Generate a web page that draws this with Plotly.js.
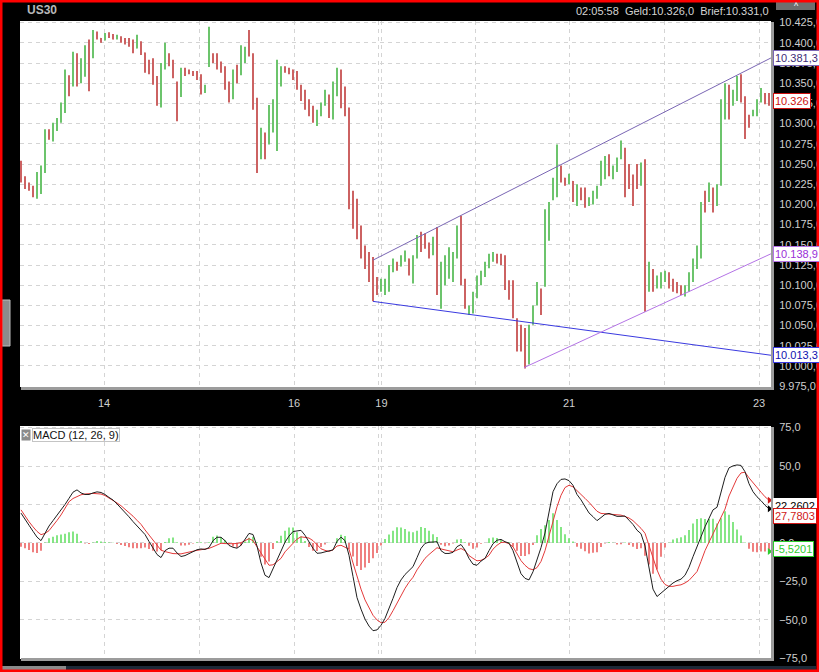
<!DOCTYPE html>
<html><head><meta charset="utf-8">
<script src="https://cdn.plot.ly/plotly-3.0.1.min.js"></script>
<style>html,body{margin:0;padding:0;background:#000;}#chart{width:819px;height:672px;}</style>
</head><body><div id="chart"></div>
<script>
// ---- price bars (US30, intraday) ----
const open = [
10250,10232,10224,10220,10212,10225,10242,10290,10282,10294,
10303,10316,10356,10350,10382,10355,10372,10398,10390,10410,
10405,10404,10411,10409,10406,10407,10403,10403,10400,10394,
10400,10387,10376,10374,10356,10325,10370,10385,10376,10350,
10335,10366,10364,10363,10362,10357,10340,10372,10386,10382,
10374,10368,10345,10335,10368,10362,10378,10395,10385,10330,
10258,10285,10278,10295,10305,10350,10369,10368,10366,10362,
10346,10338,10328,10318,10300,10312,10324,10333,10308,10345,
10364,10340,10318,10212,10195,10170,10146,10136,10128,10100,
10095,10098,10095,10118,10127,10124,10131,10132,10112,10135,
10160,10160,10150,10140,10168,10080,10105,10125,10110,10137,
10180,10105,10068,10070,10088,10102,10112,10125,10132,10137,
10134,10134,10100,10100,10055,10045,10035,10005,10055,10078,
10090,10100,10165,10207,10212,10245,10232,10226,10228,10203,
10219,10210,10200,10202,10210,10224,10235,10258,10236,10242,
10258,10268,10240,10232,10245,10228,10250,10095,10115,10100,
10100,10106,10114,10104,10100,10098,10089,10094,10108,10124,
10136,10210,10205,10215,10200,10225,10315,10345,10324,10332,
10356,10330,10308,10311,10312,10330,10336,10332];
const high = [
10254,10235,10227,10223,10240,10248,10293,10293,10301,10307,
10326,10367,10360,10389,10387,10381,10397,10404,10416,10414,
10406,10412,10413,10411,10410,10408,10406,10406,10404,10410,
10402,10388,10379,10381,10359,10375,10400,10387,10379,10352,
10369,10369,10367,10365,10365,10361,10348,10420,10387,10387,
10377,10371,10352,10367,10373,10397,10395,10416,10387,10332,
10295,10289,10323,10330,10379,10371,10371,10369,10367,10365,
10348,10342,10330,10322,10317,10326,10342,10336,10352,10369,
10367,10346,10320,10217,10207,10174,10149,10141,10135,10110,
10108,10108,10125,10133,10129,10137,10143,10133,10137,10162,
10166,10164,10153,10160,10172,10129,10137,10147,10141,10174,
10186,10108,10075,10092,10112,10118,10129,10139,10141,10139,
10139,10137,10106,10106,10059,10051,10047,10051,10075,10104,
10096,10194,10203,10233,10274,10248,10233,10238,10229,10225,
10221,10221,10209,10217,10223,10254,10260,10262,10248,10258,
10279,10270,10250,10237,10250,10252,10256,10129,10120,10112,
10116,10118,10116,10108,10104,10100,10100,10116,10133,10149,
10203,10217,10227,10221,10225,10330,10350,10348,10342,10359,
10361,10334,10311,10317,10330,10344,10338,10338];
const low = [
10227,10219,10217,10209,10207,10213,10239,10280,10278,10291,
10301,10313,10334,10346,10346,10350,10358,10340,10381,10404,
10400,10403,10406,10404,10404,10400,10398,10395,10387,10393,
10385,10363,10361,10348,10322,10320,10367,10371,10356,10303,
10333,10359,10361,10359,10354,10336,10338,10370,10375,10367,
10363,10342,10326,10330,10350,10360,10375,10383,10317,10239,
10256,10256,10274,10289,10266,10346,10363,10361,10354,10342,
10328,10317,10309,10301,10297,10309,10322,10307,10305,10334,
10319,10309,10194,10170,10157,10133,10120,10104,10080,10088,
10092,10088,10092,10116,10118,10123,10129,10112,10102,10133,
10141,10145,10133,10137,10088,10071,10100,10108,10104,10133,
10100,10071,10063,10065,10084,10100,10110,10121,10129,10127,
10125,10094,10082,10059,10018,10018,9997,10002,10051,10075,
10063,10098,10155,10205,10209,10227,10223,10225,10203,10198,
10205,10196,10198,10200,10207,10223,10231,10235,10231,10240,
10256,10209,10219,10198,10219,10223,10067,10092,10092,10096,
10096,10104,10096,10092,10090,10088,10086,10092,10104,10120,
10133,10190,10203,10190,10198,10223,10305,10305,10322,10328,
10326,10281,10295,10309,10309,10326,10324,10322];
const close = [
10232,10222,10219,10212,10236,10245,10290,10283,10298,10305,
10322,10360,10340,10383,10352,10375,10392,10390,10412,10408,
10401,10410,10408,10405,10407,10402,10400,10398,10389,10407,
10388,10366,10366,10352,10332,10370,10395,10375,10360,10315,
10365,10361,10363,10361,10356,10340,10346,10395,10378,10370,
10366,10345,10335,10362,10355,10392,10388,10386,10322,10255,
10290,10265,10318,10315,10375,10368,10368,10363,10357,10345,
10331,10320,10312,10304,10313,10320,10340,10312,10348,10362,
10325,10312,10200,10180,10162,10138,10125,10108,10105,10092,
10100,10104,10120,10130,10121,10135,10140,10116,10128,10158,
10150,10150,10136,10155,10095,10120,10133,10140,10136,10168,
10105,10075,10070,10088,10108,10115,10126,10133,10138,10130,
10128,10098,10090,10062,10025,10030,10010,10045,10068,10095,
10070,10185,10195,10228,10240,10230,10225,10235,10208,10220,
10208,10200,10205,10214,10219,10245,10255,10240,10244,10255,
10272,10215,10225,10215,10225,10245,10090,10120,10100,10108,
10112,10115,10100,10095,10094,10090,10098,10112,10128,10140,
10195,10200,10215,10195,10218,10320,10340,10312,10338,10355,
10335,10295,10300,10314,10326,10336,10328,10326];

// ---- MACD (12, 26, 9) ----
const macd = [
19.4,15,11.5,7.6,3.8,1.5,6.5,11,14.5,18,
21,25,29,33,34.5,32.5,31.5,31.5,32.5,33.2,
32.8,31.5,29.6,27.9,25.4,22.8,20,17,13.9,11.3,
8.7,5.5,1,-3.5,-7.5,-9.5,-5,-3.4,-3.4,-6.5,
-8.8,-8.2,-7,-5.6,-4.4,-3.9,-4.2,-3,1.5,3.7,
3.7,1.5,-1.6,-2.8,-3.4,-1.5,2.5,6.2,5.5,-2,
-13,-21,-22.5,-16.4,-11,-5.3,0.5,4.5,7.4,8,
8.2,5,0.5,-3.5,-6.7,-6.5,-5.8,-5.3,-4.5,1,
3.8,1.5,-8,-21.8,-35.5,-43,-49.5,-54,-57,-56.5,
-53.5,-49,-43,-36,-29,-24,-20.5,-18,-15.4,-9.5,
-3.5,-0.3,0.5,0.6,0.8,-5,-6.8,-6.8,-6.1,-2.4,
-1,-4.6,-10,-13.8,-14.5,-11.8,-10,-5,-0.5,1.8,
2.3,0.8,-0.1,-5,-12,-20,-23,-24,-18.7,-11,
-3,6.5,19.5,33.3,38.5,41.3,41.6,40.5,37.5,31.5,
28,23.6,19.5,17.1,14.5,16.5,18.6,19.2,18.5,17.3,
17.3,17.5,14.8,12,8.3,6,-2,-16,-30,-34.8,
-32.5,-30,-28,-26,-24.5,-23.5,-21,-15.8,-8.9,-3,
4,10.5,16,21.5,23.2,32.5,42.6,48.8,50.1,50.7,
50.4,46.3,38.5,33.3,30,27.5,24.5,22.2602];
const signal = [
21.5,17.5,13.8,10.5,7.5,5.4,6.2,8,11,14.6,
18.2,22.5,26.8,28.9,30.2,31.3,31.8,32.2,32.2,32,
31.8,30.8,29.3,27.7,26,24.2,22,19.8,17.4,14.7,
12.1,8.5,5,1.5,-2,-4.7,-5.6,-6.5,-6.9,-7,
-7.1,-6.5,-5.8,-5.2,-4.8,-4.4,-4,-3.5,-2.5,-1.2,
-0.2,-0.4,-0.6,-0.5,-0.3,0.2,1.5,2.8,1.5,-2.5,
-5.8,-10,-14.5,-14.2,-12.3,-10,-5.8,-3,-0.5,2.5,
4,3.8,3.2,1.5,-1.5,-3.8,-4.8,-5.5,-4.5,-2,
-1.5,-3,-4,-13,-22,-30,-37,-42.5,-47,-50,
-51.8,-51.5,-48.5,-44,-39.2,-34,-29.5,-25.5,-22.3,-17.5,
-13.8,-10,-7.5,-5,-3.1,-3.9,-4.6,-5.2,-5.7,-4.6,
-3.6,-5,-8.2,-10,-11.6,-11.3,-10,-8,-4,-1.5,
0.3,0.5,-0.5,-2.5,-7,-11.5,-14.5,-16.7,-17.4,-16,
-12,-5,4.5,14,23.5,31,36,37.5,36.5,34,
31.8,29,26.4,23.5,20.6,19.2,18.9,18.6,18.4,18.3,
18.1,17.2,16.2,14.5,12.2,9.5,6.3,-2,-10,-17.5,
-23.5,-27,-28.2,-28.2,-27.6,-27.2,-26,-24.3,-21.5,-18.6,
-12,-5,0.5,5.8,10.6,16.5,22,30.5,36.5,42,
45.5,46,42.3,39,36,33,30,27.7803];
const hist = [
-2.5,-3.5,-4.5,-6,-6.5,-5,0.3,3,4,5,
5.5,6,7,7.4,6,1.2,-0.3,-0.7,0.3,1.2,
1,0.7,0.3,0.2,-0.6,-1.4,-2,-2.8,-3.5,-3.4,
-3.4,-3,-4,-5,-5.5,-4.8,0.6,3.1,3.5,0.5,
-1.7,-1.7,-1.2,-0.4,0.4,0.5,-0.2,0.5,4,4.9,
3.9,1.9,-1,-2.3,-3.1,-1.7,1,3.4,4,0.5,
-9,-14,-12,-4,1.3,4.7,8,10,10,7,
4.2,1.2,-2.7,-5,-5.2,-2.7,-1,0.2,0,3,
5.3,4.5,-4,-8.8,-15,-17.5,-16,-13,-10,-6.5,
-1.7,2.5,5.5,8,10.2,10,9,7.5,6.9,8,
10.3,9.7,8,5.6,3.9,-1.1,-2.2,-1.6,-0.4,2.2,
2.6,0.4,-1.8,-3.8,-2.9,-0.5,0,3,3.5,3.3,
2,0.3,0.4,-2.5,-5,-8.5,-8.5,-7.3,-1.3,5,
9,11.5,15,19.3,15,10.3,5.6,3,1,-2.5,
-3.8,-5.4,-6.9,-6.4,-6.1,-2.7,-0.3,0.6,0.1,-1,
-0.8,0.3,-1.4,-2.5,-3.9,-3.5,-8.3,-14,-20,-17.3,
-9,-3,0.2,2.2,3.1,3.7,5,8.5,12.6,15.6,
16,15.5,15.5,15.7,12.6,16,20.6,18.3,13.6,8.7,
4.9,0.3,-3.8,-5.7,-6,-5.5,-5.5,-5.5201];

// ---- axis ticks (day boundaries in bar units) ----
const dayTickBars = [20.75, 44.5, 68.25, 89.4, 90.1, 113.5, 137, 160.75, 184.5];
const dayTickLabels = ['14', '', '16', '', '19', '', '21', '', '23'];

// ---- drawn trend lines ----
const trendStartBar = [88, 88, 125.75];
const trendStartVal = [10131, 10080, 9998];
const trendEndVal = [10381.3, 10013.3, 10138.9];
const trendLabels = ['10.381,3', '10.013,3', '10.138,9'];
const trendColors = ['#7a66b4', '#3a3ae0', '#b473e6'];
const trendTextColors = ['#3c2c78', '#1010b0', '#9a30d8'];

// ---- header / legend values ----
const symbol = 'US30';
const headerItems = ['02:05:58', 'Geld:10.326,0', 'Brief:10.331,0'];
const lastPrice = 10326;
const lastPriceLabel = '10.326';
const macdLegend = 'MACD (12, 26, 9)';
const macdLast = [22.2602, 27.7803, -5.5201];
const macdLastLabels = ['22,2602', '27,7803', '-5,5201'];

const W = 819, H = 672;
const px = x => x / W;
const py = y => 1 - y / H;
const idx = open.map((_, i) => i);
const xEnd = 187.5;
const lastBar = idx[idx.length - 1];
const macdBoxColors = ['#000000', '#d01818', '#2ecc2e'];
const markerOrder = [1, 0, 2];

const traces = [
  {type: 'ohlc', x: idx, open: open, high: high, low: low, close: close,
   xaxis: 'x', yaxis: 'y', tickwidth: 0.12, hoverinfo: 'skip',
   increasing: {line: {color: '#6cc46c', width: 2}},
   decreasing: {line: {color: '#cc6262', width: 2}}},
  {type: 'bar', x: idx, y: hist, xaxis: 'x2', yaxis: 'y2', width: 0.45,
   marker: {color: hist.map(v => v >= 0 ? '#78e478' : '#ee7272'), line: {width: 0}}, hoverinfo: 'skip'},
  {type: 'scatter', mode: 'lines', x: idx, y: signal, xaxis: 'x2', yaxis: 'y2',
   line: {color: '#e43a3a', width: 1}, hoverinfo: 'skip'},
  {type: 'scatter', mode: 'lines', x: idx, y: macd, xaxis: 'x2', yaxis: 'y2',
   line: {color: '#1e1e1e', width: 1}, hoverinfo: 'skip'},
  {type: 'scatter', mode: 'markers', x: markerOrder.map(() => lastBar + 0.1), y: markerOrder.map(k => macdLast[k]),
   xaxis: 'x2', yaxis: 'y2', cliponaxis: false, hoverinfo: 'skip',
   marker: {symbol: 'triangle-right', size: 6, color: markerOrder.map(k => macdBoxColors[k])}}
];

const grid = {showgrid: true, gridcolor: '#d4d4d4', griddash: '4px,4px', gridwidth: 1, zeroline: false, showline: false};
const fontAx = {family: 'Liberation Sans, Arial, sans-serif', size: 11, color: '#cfcfcf'};

const shapes = [];
trendStartBar.forEach((b, k) => {
  shapes.push({type: 'line', xref: 'x', yref: 'y', x0: b, y0: trendStartVal[k], x1: xEnd, y1: trendEndVal[k],
    line: {color: trendColors[k], width: 1}});
});
// panel shadows
shapes.push({type: 'line', xref: 'paper', yref: 'paper', x0: px(772.5), x1: px(772.5), y0: py(22), y1: py(390), line: {color: '#9c9c9c', width: 3}});
shapes.push({type: 'line', xref: 'paper', yref: 'paper', x0: px(21), x1: px(774), y0: py(388.5), y1: py(388.5), line: {color: '#9c9c9c', width: 3}});
shapes.push({type: 'line', xref: 'paper', yref: 'paper', x0: px(772.5), x1: px(772.5), y0: py(427), y1: py(661), line: {color: '#9c9c9c', width: 3}});
shapes.push({type: 'line', xref: 'paper', yref: 'paper', x0: px(21), x1: px(774), y0: py(659.5), y1: py(659.5), line: {color: '#9c9c9c', width: 3}});
// window chrome
shapes.push({type: 'rect', xref: 'paper', yref: 'paper', x0: px(0), x1: px(66), y0: py(670), y1: py(666), fillcolor: '#8a8a8a', line: {width: 0}});
shapes.push({type: 'rect', xref: 'paper', yref: 'paper', x0: px(66), x1: px(816), y0: py(670), y1: py(666), fillcolor: '#1d2a38', line: {width: 0}});
shapes.push({type: 'rect', xref: 'paper', yref: 'paper', x0: px(2), x1: px(10), y0: py(346), y1: py(300), fillcolor: '#8c8c8c', line: {color: '#bdbdbd', width: 1}});
shapes.push({type: 'rect', xref: 'paper', yref: 'paper', x0: px(776), x1: px(815), y0: py(10), y1: py(2), fillcolor: '#6e6e6e', line: {width: 0}});
shapes.push({type: 'rect', xref: 'paper', yref: 'paper', x0: 0, x1: 1, y0: 0, y1: 1, line: {color: '#ff0000', width: 5}});

const annotations = [
  {xref: 'paper', yref: 'paper', x: px(25), y: py(10), xanchor: 'left', yanchor: 'middle', showarrow: false,
   text: '<b>' + symbol + '</b>', font: {family: 'Liberation Sans, Arial, sans-serif', size: 12, color: '#b8b8b8'}},
  {xref: 'paper', yref: 'paper', x: px(771), y: py(11), xanchor: 'right', yanchor: 'middle', showarrow: false,
   text: headerItems.join('&nbsp;&nbsp;'), font: {family: 'Liberation Sans, Arial, sans-serif', size: 11, color: '#d4d4d4'}},
  {xref: 'paper', yref: 'paper', x: px(796), y: py(6), xanchor: 'center', yanchor: 'middle', showarrow: false,
   text: '^', font: {size: 9, color: '#ffffff'}},
  {xref: 'paper', yref: 'y', x: px(773), y: lastPrice, yshift: 2, xanchor: 'left', yanchor: 'middle', showarrow: false,
   text: lastPriceLabel, bgcolor: '#ffffff', bordercolor: '#cc1010', borderwidth: 1, borderpad: 1,
   font: {family: 'Liberation Sans, Arial, sans-serif', size: 11, color: '#cc1010'}},
  {xref: 'paper', yref: 'paper', x: px(21), y: py(435), xanchor: 'left', yanchor: 'middle', showarrow: false,
   text: '✕', bgcolor: '#8a8a8a', font: {size: 9, color: '#ffffff'}, borderpad: 0},
  {xref: 'paper', yref: 'paper', x: px(32), y: py(435), xanchor: 'left', yanchor: 'middle', showarrow: false,
   text: macdLegend, bgcolor: '#ffffff', bordercolor: '#c4c4c4', borderwidth: 1, borderpad: 0,
   font: {family: 'Liberation Sans, Arial, sans-serif', size: 11, color: '#111111'}}
];
trendLabels.forEach((t, k) => {
  annotations.push({xref: 'paper', yref: 'y', x: px(773), y: trendEndVal[k], xanchor: 'left', yanchor: 'middle', showarrow: false,
    text: t, bgcolor: '#ffffff', bordercolor: trendColors[k], borderwidth: 1, borderpad: 1,
    font: {family: 'Liberation Sans, Arial, sans-serif', size: 11, color: trendTextColors[k]}});
});
const macdBoxShift = [3, -16, 2];
macdLast.forEach((v, k) => {
  annotations.push({xref: 'paper', yref: 'y2', x: px(773), y: v, yshift: macdBoxShift[k], xanchor: 'left', yanchor: 'middle', showarrow: false,
    text: macdLastLabels[k], bgcolor: '#ffffff', bordercolor: k === 0 ? '#ffffff' : macdBoxColors[k], borderwidth: 1, borderpad: 1,
    font: {family: 'Liberation Sans, Arial, sans-serif', size: 11, color: macdBoxColors[k]}});
});

const layout = {
  width: W, height: H, margin: {l: 0, r: 0, t: 0, b: 0},
  paper_bgcolor: '#000000', plot_bgcolor: '#ffffff',
  separators: ',.', showlegend: false, dragmode: false,
  font: fontAx,
  xaxis: Object.assign({domain: [px(20), px(771)], range: [-0.25, xEnd], anchor: 'y',
    tickmode: 'array', tickvals: dayTickBars, ticktext: dayTickLabels, ticks: 'outside', ticklen: 6, tickcolor: '#000',
    tickfont: fontAx, rangeslider: {visible: false}}, grid),
  yaxis: Object.assign({domain: [py(387), py(21)], range: [9974, 10427], side: 'right', anchor: 'x',
    tick0: 0, dtick: 25, tickformat: ',.1f', ticks: 'outside', ticklen: 5, tickcolor: '#000', tickfont: fontAx}, grid),
  xaxis2: Object.assign({domain: [px(20), px(771)], range: [-0.25, xEnd], anchor: 'y2',
    tickmode: 'array', tickvals: dayTickBars, ticktext: dayTickLabels, showticklabels: false}, grid),
  yaxis2: Object.assign({domain: [py(659), py(426)], range: [-75.4, 76], side: 'right', anchor: 'x2',
    tick0: 0, dtick: 25, tickformat: ',.1f', ticks: 'outside', ticklen: 5, tickcolor: '#000', tickfont: fontAx}, grid),
  shapes: shapes,
  annotations: annotations
};

Plotly.newPlot('chart', traces, layout, {staticPlot: true, displayModeBar: false});
</script>
</body></html>
